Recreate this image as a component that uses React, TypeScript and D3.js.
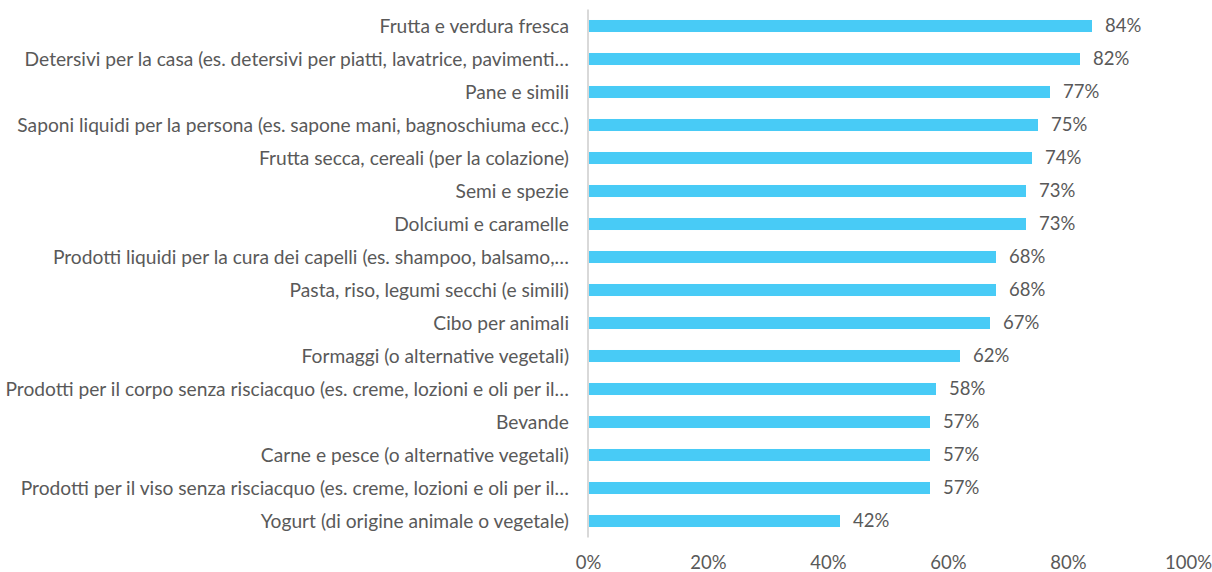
import React, { useEffect, useRef } from 'react';
import * as d3 from 'd3';

const categories = [
  'Frutta e verdura fresca',
  'Detersivi per la casa (es. detersivi per piatti, lavatrice, pavimenti…',
  'Pane e simili',
  'Saponi liquidi per la persona (es. sapone mani, bagnoschiuma ecc.)',
  'Frutta secca, cereali (per la colazione)',
  'Semi e spezie',
  'Dolciumi e caramelle',
  'Prodotti liquidi per la cura dei capelli (es. shampoo, balsamo,…',
  'Pasta, riso, legumi secchi (e simili)',
  'Cibo per animali',
  'Formaggi (o alternative vegetali)',
  'Prodotti per il corpo senza risciacquo (es. creme, lozioni e oli per il…',
  'Bevande',
  'Carne e pesce (o alternative vegetali)',
  'Prodotti per il viso senza risciacquo (es. creme, lozioni e oli per il…',
  'Yogurt (di origine animale o vegetale)',
];
const values = [0.84, 0.82, 0.77, 0.75, 0.74, 0.73, 0.73, 0.68, 0.68, 0.67, 0.62, 0.58, 0.57, 0.57, 0.57, 0.42];
const xTicks = [0, 0.2, 0.4, 0.6, 0.8, 1];

const App = () => {
  const svgRef = useRef<SVGSVGElement>(null);

  useEffect(() => {
    const width = 1212;
    const height = 572;
    const margin = { top: 9.5, right: 24, bottom: 34.5, left: 588 };

    const svg = d3.select(svgRef.current);
    svg.selectAll('*').remove();
    svg.attr('width', width).attr('height', height);

    const font = "Lato, sans-serif";
    const textColor = '#595959';

    const x = d3.scaleLinear().domain([0, 1]).range([margin.left, margin.left + 600]);
    const y = d3.scaleBand()
      .domain(categories)
      .range([margin.top, height - margin.bottom])
      .paddingInner(0.636)
      .paddingOuter(0.318);

    // bars
    svg.append('g')
      .selectAll('rect')
      .data(values)
      .enter()
      .append('rect')
      .attr('x', x(0))
      .attr('y', (d, i) => y(categories[i])!)
      .attr('width', d => x(d) - x(0))
      .attr('height', y.bandwidth())
      .attr('fill', '#48cbf6');

    // vertical axis line
    svg.append('line')
      .attr('x1', x(0))
      .attr('x2', x(0))
      .attr('y1', margin.top)
      .attr('y2', height - margin.bottom)
      .attr('stroke', '#d9d9d9')
      .attr('stroke-width', 2);

    // category labels
    svg.append('g')
      .selectAll('text')
      .data(categories)
      .enter()
      .append('text')
      .attr('x', x(0) - 19)
      .attr('y', d => y(d)! + y.bandwidth() / 2)
      .attr('dy', '0.35em')
      .attr('text-anchor', 'end')
      .attr('font-family', font)
      .attr('font-size', 19.2)
      .attr('fill', textColor)
      .text(d => d);

    // value labels
    svg.append('g')
      .selectAll('text')
      .data(values)
      .enter()
      .append('text')
      .attr('x', d => x(d) + 13)
      .attr('y', (d, i) => y(categories[i])! + y.bandwidth() / 2)
      .attr('dy', '0.35em')
      .attr('font-family', font)
      .attr('font-size', 18.5)
      .attr('fill', textColor)
      .text(d => d3.format('.0%')(d));

    // x axis
    const xAxis = svg.append('g')
      .attr('transform', `translate(0,${height - margin.bottom})`)
      .call(d3.axisBottom(x).tickValues(xTicks).tickFormat(d3.format('.0%')).tickSize(0).tickPadding(18));
    xAxis.select('.domain').remove();
    xAxis.selectAll('text')
      .attr('font-family', font)
      .attr('font-size', 18.5)
      .attr('fill', textColor);
  }, []);

  return (
    <div style={{ position: 'absolute', left: 0, top: 0 }}>
      <svg ref={svgRef}></svg>
    </div>
  );
};

export default App;
